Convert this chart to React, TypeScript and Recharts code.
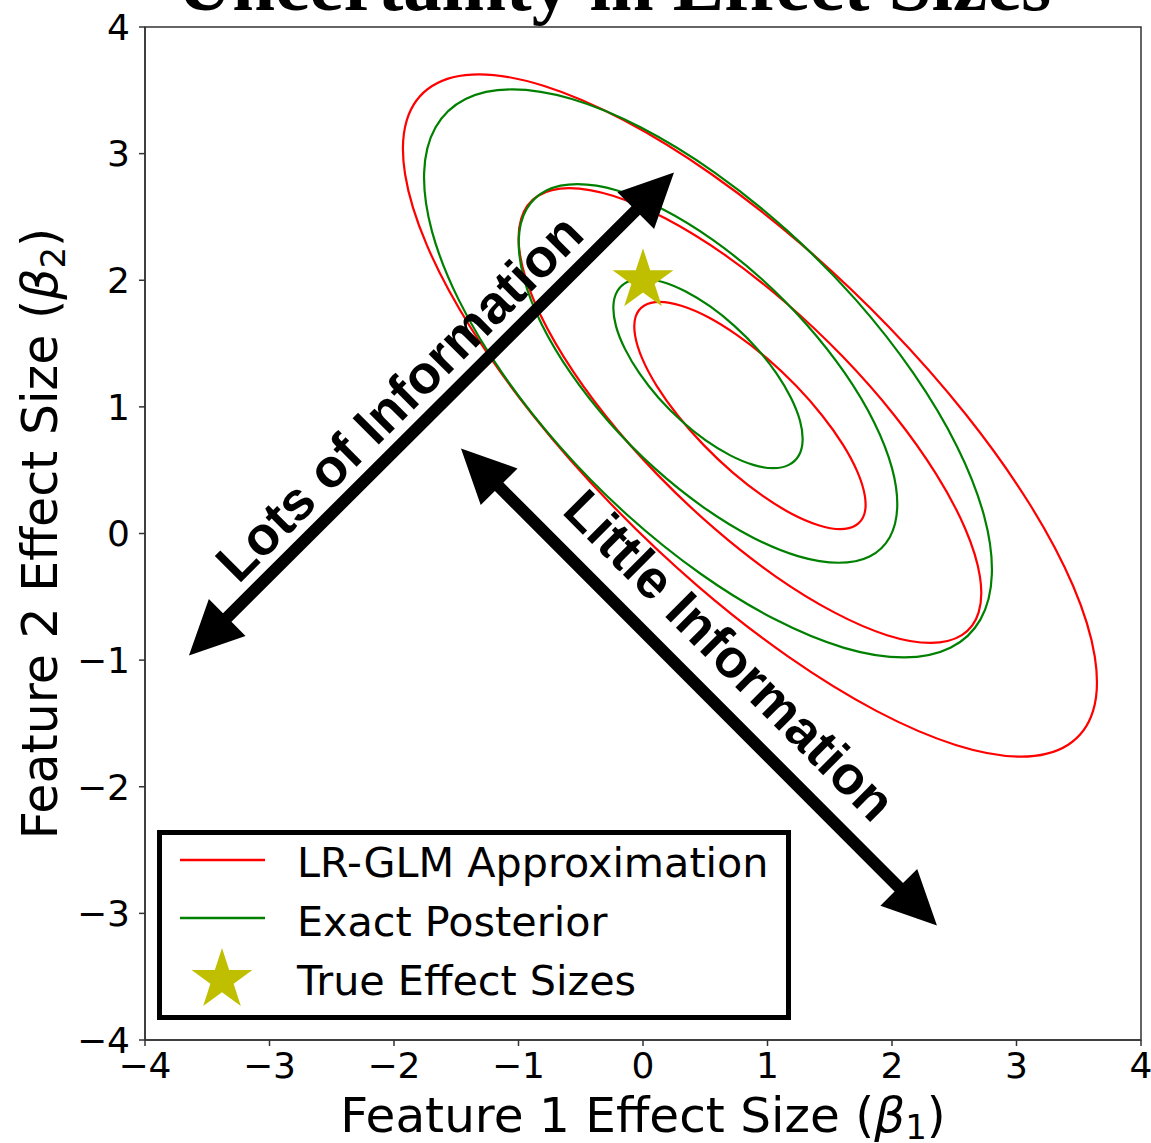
import React from 'react';
import {
  ComposedChart,
  Line,
  Scatter,
  XAxis,
  YAxis,
  ReferenceLine,
  ReferenceDot,
  ReferenceArea,
  Legend,
} from 'recharts';

// ---------------- data ----------------
const TICKS = [-4, -3, -2, -1, 0, 1, 2, 3, 4];
const TITLE = 'Uncertainty in Effect Sizes';
const LEGEND_LABELS = ['LR-GLM Approximation', 'Exact Posterior', 'True Effect Sizes'];

// LR-GLM approximation contours
const redInner: [number, number][] = [
  [0.133, 1.830], [0.308, 1.799], [0.521, 1.710], [0.756, 1.567], [0.999, 1.381], [1.232, 1.164],
  [1.439, 0.932], [1.607, 0.700], [1.724, 0.483], [1.782, 0.297], [1.778, 0.154], [1.710, 0.065],
  [1.585, 0.034], [1.410, 0.065], [1.197, 0.154], [0.962, 0.297], [0.719, 0.483], [0.486, 0.700],
  [0.279, 0.932], [0.111, 1.164], [-0.006, 1.381], [-0.064, 1.567], [-0.060, 1.710], [0.008, 1.799],
];
const redMiddle: [number, number][] = [
  [-0.592, 2.728], [-0.242, 2.667], [0.182, 2.487], [0.654, 2.202], [1.138, 1.830], [1.604, 1.397],
  [2.020, 0.932], [2.356, 0.467], [2.590, 0.034], [2.706, -0.338], [2.696, -0.623], [2.561, -0.803],
  [2.310, -0.864], [1.960, -0.803], [1.536, -0.623], [1.064, -0.338], [0.580, 0.034], [0.114, 0.467],
  [-0.302, 0.932], [-0.638, 1.397], [-0.872, 1.830], [-0.988, 2.202], [-0.978, 2.487], [-0.843, 2.667],
];
const redOuter: [number, number][] = [
  [-1.318, 3.626], [-0.793, 3.534], [-0.156, 3.265], [0.551, 2.837], [1.278, 2.279], [1.977, 1.629],
  [2.600, 0.932], [3.104, 0.235], [3.455, -0.415], [3.629, -0.973], [3.615, -1.401], [3.412, -1.670],
  [3.036, -1.762], [2.511, -1.670], [1.874, -1.401], [1.167, -0.973], [0.440, -0.415], [-0.259, 0.235],
  [-0.882, 0.932], [-1.386, 1.629], [-1.737, 2.279], [-1.911, 2.837], [-1.897, 3.265], [-1.694, 3.534],
];

// Exact posterior contours
const greenInner: [number, number][] = [
  [-0.003, 2.012], [0.158, 1.986], [0.343, 1.911], [0.540, 1.793], [0.736, 1.638], [0.918, 1.458],
  [1.072, 1.264], [1.189, 1.070], [1.261, 0.890], [1.282, 0.735], [1.252, 0.617], [1.171, 0.542],
  [1.047, 0.516], [0.886, 0.542], [0.701, 0.617], [0.504, 0.735], [0.308, 0.890], [0.126, 1.070],
  [-0.028, 1.264], [-0.145, 1.458], [-0.217, 1.638], [-0.238, 1.793], [-0.208, 1.911], [-0.127, 1.986],
];
const greenMiddle: [number, number][] = [
  [-0.527, 2.759], [-0.207, 2.709], [0.163, 2.559], [0.558, 2.321], [0.951, 2.012], [1.314, 1.651],
  [1.623, 1.264], [1.857, 0.877], [2.000, 0.516], [2.042, 0.207], [1.981, -0.031], [1.820, -0.181],
  [1.571, -0.231], [1.251, -0.181], [0.881, -0.031], [0.486, 0.207], [0.093, 0.516], [-0.270, 0.877],
  [-0.579, 1.264], [-0.813, 1.651], [-0.956, 2.012], [-0.998, 2.321], [-0.937, 2.559], [-0.776, 2.709],
];
const greenOuter: [number, number][] = [
  [-1.052, 3.507], [-0.571, 3.431], [-0.016, 3.206], [0.576, 2.850], [1.165, 2.386], [1.710, 1.845],
  [2.173, 1.264], [2.524, 0.684], [2.739, 0.142], [2.802, -0.322], [2.711, -0.678], [2.469, -0.903],
  [2.096, -0.979], [1.615, -0.903], [1.060, -0.678], [0.468, -0.322], [-0.121, 0.142], [-0.666, 0.684],
  [-1.129, 1.264], [-1.480, 1.845], [-1.695, 2.386], [-1.758, 2.850], [-1.667, 3.206], [-1.425, 3.431],
];

const trueEffect = [{ x: 0, y: 2 }];

const arrowLots = [{ x: -3.647, y: -0.964 }, { x: 0.249, y: 2.851 }];
const arrowLittle = [{ x: -1.462, y: 0.671 }, { x: 2.361, y: -3.096 }];

const annotations = [
  { text: 'Lots of Information', x: -1.96, y: 1.074, angle: -45 },
  { text: 'Little Information', x: 0.70, y: -0.96, angle: 45 },
];

// ---------------- styling ----------------
const RED = '#ff0000';
const GREEN = '#008000';
const STAR = '#bfbf00';
const SANS = '"DejaVu Sans", sans-serif';

const toRows = (pts: [number, number][]) => pts.map(([x, y]) => ({ x, y }));

const contours = [
  { name: 'redOuter', data: toRows(redOuter), color: RED },
  { name: 'greenOuter', data: toRows(greenOuter), color: GREEN },
  { name: 'redMiddle', data: toRows(redMiddle), color: RED },
  { name: 'greenMiddle', data: toRows(greenMiddle), color: GREEN },
  { name: 'redInner', data: toRows(redInner), color: RED },
  { name: 'greenInner', data: toRows(greenInner), color: GREEN },
];

// closed Catmull-Rom curve factory (smooth closed curve through points)
const closedCurve = (context: any) => {
  let pts: number[][] = [];
  return {
    areaStart() {},
    areaEnd() {},
    lineStart() {
      pts = [];
    },
    lineEnd() {
      const n = pts.length;
      if (!n) return;
      context.moveTo(pts[0][0], pts[0][1]);
      for (let i = 0; i < n; i++) {
        const p0 = pts[(i - 1 + n) % n];
        const p1 = pts[i];
        const p2 = pts[(i + 1) % n];
        const p3 = pts[(i + 2) % n];
        context.bezierCurveTo(
          p1[0] + (p2[0] - p0[0]) / 6,
          p1[1] + (p2[1] - p0[1]) / 6,
          p2[0] - (p3[0] - p1[0]) / 6,
          p2[1] - (p3[1] - p1[1]) / 6,
          p2[0],
          p2[1]
        );
      }
      context.closePath();
    },
    point(x: number, y: number) {
      pts.push([+x, +y]);
    },
  };
};

const starPoints = (cx: number, cy: number, R: number) => {
  const r = R * 0.382;
  const out: string[] = [];
  for (let i = 0; i < 10; i++) {
    const a = -Math.PI / 2 + (i * Math.PI) / 5;
    const rad = i % 2 === 0 ? R : r;
    out.push(`${cx + rad * Math.cos(a)},${cy + rad * Math.sin(a)}`);
  }
  return out.join(' ');
};

const StarShape = (props: any) => {
  const { cx, cy } = props;
  if (cx == null || cy == null) return null;
  return <polygon points={starPoints(cx, cy, 32)} fill={STAR} />;
};

const ArrowShape = (props: any) => {
  const { x1, y1, x2, y2 } = props;
  if ([x1, y1, x2, y2].some((v) => v == null || isNaN(v))) return null;
  const dx = x2 - x1;
  const dy = y2 - y1;
  const len = Math.sqrt(dx * dx + dy * dy);
  const ux = dx / len;
  const uy = dy / len;
  const nx = -uy;
  const ny = ux;
  const H = 54;
  const W = 26;
  const S = 6;
  const b1x = x1 + ux * H;
  const b1y = y1 + uy * H;
  const b2x = x2 - ux * H;
  const b2y = y2 - uy * H;
  const p = [
    [x1, y1],
    [b1x + nx * W, b1y + ny * W],
    [b1x + nx * S, b1y + ny * S],
    [b2x + nx * S, b2y + ny * S],
    [b2x + nx * W, b2y + ny * W],
    [x2, y2],
    [b2x - nx * W, b2y - ny * W],
    [b2x - nx * S, b2y - ny * S],
    [b1x - nx * S, b1y - ny * S],
    [b1x - nx * W, b1y - ny * W],
  ];
  return <polygon points={p.map((q) => q.join(',')).join(' ')} fill="#000" />;
};

const makeTextShape = (text: string, angle: number) => (props: any) => {
  const { cx, cy } = props;
  if (cx == null || cy == null) return null;
  return (
    <text
      x={cx}
      y={cy}
      textAnchor="middle"
      dominantBaseline="central"
      transform={`rotate(${angle} ${cx} ${cy})`}
      fontFamily='"Liberation Sans", Arial, sans-serif'
      fontWeight="bold"
      fontSize={54}
      fill="#000"
    >
      {text}
    </text>
  );
};

const fmt = (v: number) => (v < 0 ? `\u2212${Math.abs(v)}` : `${v}`);

const XLabel = (props: any) => {
  const vb = props.viewBox || {};
  const x = vb.x + vb.width / 2;
  const y = vb.y + 92;
  return (
    <text x={x} y={y} textAnchor="middle" fontFamily={SANS} fontSize={48.5} fill="#000">
      Feature 1 Effect Size (<tspan fontStyle="italic">β</tspan>
      <tspan fontSize={34} dy={7}>1</tspan>
      <tspan dy={-7}>)</tspan>
    </text>
  );
};

const YLabel = (props: any) => {
  const vb = props.viewBox || {};
  const x = 57;
  const y = vb.y + vb.height / 2;
  return (
    <text
      x={x}
      y={y}
      textAnchor="middle"
      transform={`rotate(-90 ${x} ${y})`}
      fontFamily={SANS}
      fontSize={49}
      fill="#000"
    >
      Feature 2 Effect Size (<tspan fontStyle="italic">β</tspan>
      <tspan fontSize={34} dy={8}>2</tspan>
      <tspan dy={-8}>)</tspan>
    </text>
  );
};

const LegendBox = () => (
  <svg width={634} height={190} style={{ display: 'block' }}>
    <rect x={2.5} y={2.5} width={629} height={185} fill="#fff" stroke="#000" strokeWidth={5} />
    <line x1={23} x2={108} y1={30} y2={30} stroke={RED} strokeWidth={2.5} />
    <line x1={23} x2={108} y1={88} y2={88} stroke={GREEN} strokeWidth={2.5} />
    <polygon points={starPoints(65, 150, 32)} fill={STAR} />
    {LEGEND_LABELS.map((t, i) => (
      <text key={t} x={140} y={47 + i * 59} fontFamily={SANS} fontSize={41.3} fill="#000">
        {t}
      </text>
    ))}
  </svg>
);

export default function App() {
  return (
    <div style={{ position: 'absolute', left: 0, top: 0, width: 1151, height: 1143, background: '#fff' }}>
      <ComposedChart
        width={1151}
        height={1143}
        margin={{ top: 27, right: 10, bottom: 0, left: 0 }}
      >
        <XAxis
          type="number"
          dataKey="x"
          domain={[-4, 4]}
          ticks={TICKS}
          interval={0}
          allowDataOverflow
          height={103}
          tickFormatter={fmt}
          tick={{ fontFamily: SANS, fontSize: 36, fill: '#000' }}
          tickSize={6}
          tickMargin={6}
          axisLine={{ stroke: '#333', strokeWidth: 1.5 }}
          tickLine={{ stroke: '#333', strokeWidth: 1.5 }}
          label={XLabel}
        />
        <YAxis
          type="number"
          dataKey="y"
          domain={[-4, 4]}
          ticks={TICKS}
          interval={0}
          allowDataOverflow
          width={145}
          tickFormatter={fmt}
          tick={{ fontFamily: SANS, fontSize: 36, fill: '#000' }}
          tickSize={6}
          tickMargin={9}
          axisLine={{ stroke: '#333', strokeWidth: 1.5 }}
          tickLine={{ stroke: '#333', strokeWidth: 1.5 }}
          label={YLabel}
        />
        <ReferenceArea x1={-4} x2={4} y1={-4} y2={4} fill="none" fillOpacity={0} stroke="#333" strokeWidth={1.5} />
        <Scatter
          name="True Effect Sizes"
          data={trueEffect}
          dataKey="y"
          shape={StarShape}
          isAnimationActive={false}
        />
        {contours.map((c) => (
          <Line
            key={c.name}
            name={c.name}
            data={c.data}
            dataKey="y"
            type={closedCurve as any}
            stroke={c.color}
            strokeWidth={2.2}
            dot={false}
            activeDot={false}
            isAnimationActive={false}
          />
        ))}
        <ReferenceLine segment={arrowLots} shape={ArrowShape} />
        <ReferenceLine segment={arrowLittle} shape={ArrowShape} />
        {annotations.map((a) => (
          <ReferenceDot key={a.text} x={a.x} y={a.y} r={1} shape={makeTextShape(a.text, a.angle)} />
        ))}
        <Legend
          layout="horizontal"
          verticalAlign="middle"
          align="center"
          wrapperStyle={{ position: 'absolute', left: 157, top: 830, width: 634, height: 190 }}
          content={() => <LegendBox />}
        />
      </ComposedChart>
      <svg
        width={1151}
        height={40}
        style={{ position: 'absolute', left: 0, top: 0, pointerEvents: 'none', overflow: 'visible' }}
      >
        <text
          x={614}
          y={10}
          textAnchor="middle"
          fontFamily='"Liberation Serif", "Times New Roman", serif'
          fontWeight="bold"
          fontSize={77}
          fill="#000"
        >
          {TITLE}
        </text>
      </svg>
    </div>
  );
}
